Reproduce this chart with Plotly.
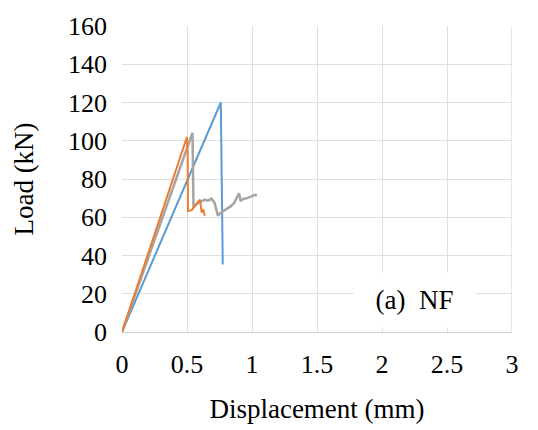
import plotly.graph_objects as go

# Data (displacement in mm, load in kN)
blue_x = [0, 0.76, 0.775]
blue_y = [0, 120, 35.3]

orange_x = [0, 0.50, 0.505, 0.5075, 0.5375, 0.56, 0.60, 0.6125, 0.625, 0.6375]
orange_y = [0, 102, 94, 63.3, 63.7, 66, 69.2, 62.5, 64, 60.8]

gray_x = [0, 0.5425, 0.55, 0.5625, 0.5875, 0.6125, 0.6375, 0.6625, 0.6875, 0.7125,
          0.7375, 0.7625, 0.80, 0.8375, 0.8625, 0.8875, 0.90, 0.9125, 0.9375,
          0.9625, 0.9875, 1.025, 1.0375]
gray_y = [0, 104.2, 65, 66.3, 67.5, 68.3, 69.2, 68.7, 69.7, 67.5,
          60.8, 62.5, 64.2, 65.8, 67.5, 70.8, 72.5, 68.7, 69.7,
          70, 70.8, 71.7, 71.3]

x_ticks = [0, 0.5, 1, 1.5, 2, 2.5, 3]
y_ticks = [0, 20, 40, 60, 80, 100, 120, 140, 160]

FONT = "Liberation Serif"
fig = go.Figure()
fig.add_trace(go.Scatter(x=blue_x, y=blue_y, mode="lines",
                         line=dict(color="#5B9BD5", width=2), showlegend=False))
fig.add_trace(go.Scatter(x=gray_x, y=gray_y, mode="lines",
                         line=dict(color="#A5A5A5", width=2.5), showlegend=False))
fig.add_trace(go.Scatter(x=orange_x, y=orange_y, mode="lines",
                         line=dict(color="#ED7D31", width=2), showlegend=False))

fig.add_annotation(x=2.25, y=16.5, xref="x", yref="y", text="(a)  NF",
                   showarrow=False, bgcolor="white", width=119, height=52,
                   font=dict(family=FONT, size=27, color="black"))

fig.update_layout(
    width=538, height=430,
    margin=dict(l=122, r=26, t=16, b=92),
    paper_bgcolor="white", plot_bgcolor="white",
    font=dict(family=FONT, size=26, color="black"),
    xaxis=dict(range=[0, 3], tickvals=x_ticks, ticktext=[str(v) for v in x_ticks],
               showgrid=True, gridcolor="#E0E0E0", gridwidth=1,
               zeroline=False, showline=True, linecolor="#D0D0D0", mirror=False,
               ticks="", ticklabelstandoff=9,
               title=dict(text="Displacement (mm)", font=dict(size=27), standoff=20)),
    yaxis=dict(range=[0, 160], tickvals=y_ticks,
               showgrid=True, gridcolor="#E0E0E0", gridwidth=1,
               zeroline=False, showline=False, ticks="", ticklabelstandoff=14,
               title=dict(text="Load (kN)", font=dict(size=27), standoff=26)),
)
fig.add_shape(type="line", xref="x", yref="paper", x0=3, x1=3, y0=0, y1=1,
              line=dict(color="#D0D0D0", width=1))
fig.write_html("out.html")
